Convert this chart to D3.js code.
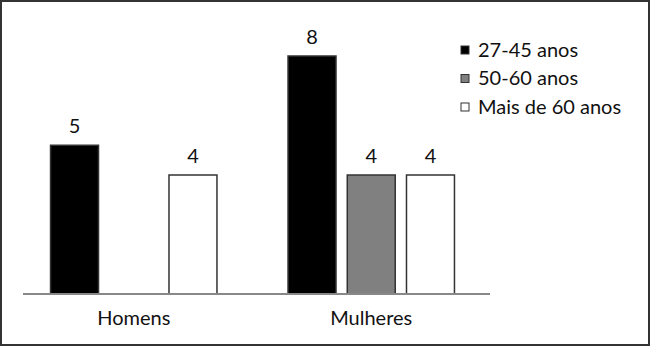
<!DOCTYPE html>
<html>
<head>
<meta charset="utf-8">
<script src="https://cdn.jsdelivr.net/npm/d3@7"></script>
<style>
  body { margin: 0; background: #fff; }
  svg text { font-family: Lato, "Open Sans", sans-serif; fill: #111; }
</style>
</head>
<body>
<svg id="chart"></svg>
<script>
const groups = ["Homens", "Mulheres"];
const series = ["27-45 anos", "50-60 anos", "Mais de 60 anos"];
const homensValues = [5, 0, 4];
const mulheresValues = [8, 4, 4];
const seriesColors = ["#000000", "#808080", "#ffffff"];

const svgWidth = 650, svgHeight = 347;

const data = groups.map((g, i) => {
  let vals = i == 0 ? homensValues : mulheresValues;
  return { group: g, values: series.map((s, j) => ({ key: s, value: vals[j] })) };
});

const svg = d3.select("#chart")
  .attr("width", svgWidth)
  .attr("height", svgHeight);

// frame around the whole picture
svg.append("rect")
  .attr("x", 1).attr("y", 1)
  .attr("width", svgWidth - 2).attr("height", svgHeight - 3)
  .attr("fill", "none")
  .attr("stroke", "#333")
  .attr("stroke-width", 2);

const baseY = 294;

const x0 = d3.scaleBand().domain(groups).range([15, 490]);
const x1 = d3.scaleBand().domain(series)
  .range([0, x0.bandwidth()])
  .paddingInner(0.19)
  .paddingOuter(0.6);
const y = d3.scaleLinear().domain([0, 8]).range([baseY, 56]);

const g = svg.append("g");

const grp = g.selectAll(".grp")
  .data(data)
  .enter().append("g")
  .attr("transform", d => "translate(" + x0(d.group) + ",0)");

grp.selectAll("rect")
  .data(d => d.values.filter(v => v.value > 0))
  .enter().append("rect")
  .attr("x", d => x1(d.key))
  .attr("y", d => y(d.value))
  .attr("width", x1.bandwidth())
  .attr("height", d => y(0) - y(d.value))
  .attr("fill", d => seriesColors[series.indexOf(d.key)])
  .attr("stroke", "#333")
  .attr("stroke-width", 1.5);

grp.selectAll(".lbl")
  .data(d => d.values.filter(v => v.value > 0))
  .enter().append("text")
  .attr("x", d => x1(d.key) + x1.bandwidth() / 2)
  .attr("y", d => y(d.value) - 12)
  .attr("text-anchor", "middle")
  .style("font-size", "20px")
  .text(d => d.value);

// baseline
g.append("line")
  .attr("x1", 23).attr("x2", 490)
  .attr("y1", baseY).attr("y2", baseY)
  .attr("stroke", "#888")
  .attr("stroke-width", 2);

// category labels
g.selectAll(".cat")
  .data(groups)
  .enter().append("text")
  .attr("x", d => x0(d) + x0.bandwidth() / 2)
  .attr("y", 325)
  .attr("text-anchor", "middle")
  .style("font-size", "20px")
  .text(d => d);

// legend
const legend = svg.append("g").attr("transform", "translate(461,50)");
series.forEach((s, i) => {
  let row = legend.append("g").attr("transform", "translate(0," + (i * 28.5) + ")");
  row.append("rect")
    .attr("x", 0).attr("y", -4)
    .attr("width", 8).attr("height", 8)
    .attr("fill", seriesColors[i])
    .attr("stroke", "#333")
    .attr("stroke-width", 1);
  row.append("text")
    .attr("x", 17).attr("y", 6.5)
    .style("font-size", "20px")
    .text(s);
});
</script>
</body>
</html>
